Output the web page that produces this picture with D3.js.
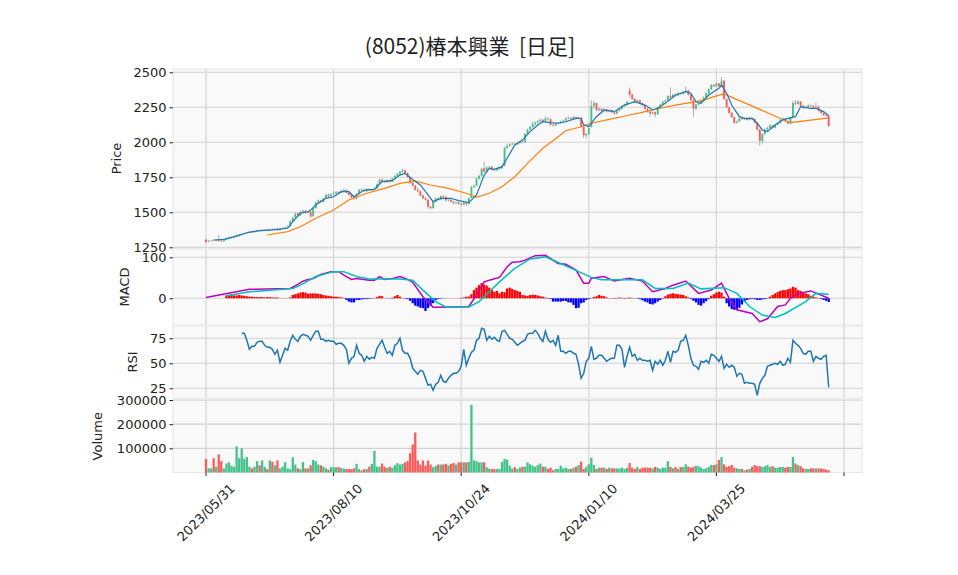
<!DOCTYPE html>
<html>
<head>
<meta charset="utf-8">
<script src="https://cdn.jsdelivr.net/npm/d3@7"></script>
<style>
  body { margin: 0; background: #fff; }
  text { font-family: "DejaVu Sans", sans-serif; fill: #222; }
</style>
</head>
<body>
<div id="chart"></div>
<script>
// ---- data ----
var title = "(8052)椿本興業  [日足]";
var tickIdx = [0, 50, 100, 150, 200, 250];
var tickLabels = ["2023/05/31", "2023/08/10", "2023/10/24", "2024/01/10", "2024/03/25", ""];

var opens = [
1305,1290,1296,1301,1298,1303,1296,1294,1305,1310, 1315,1320,1323,1330,1338,1346,1350,1355,1364,1358,
1365,1372,1366,1372,1376,1370,1378,1376,1382,1372, 1382,1386,1392,1400,1436,1462,1492,1478,1500,1512,
1498,1505,1472,1530,1570,1585,1575,1600,1625,1615, 1630,1636,1646,1640,1652,1660,1640,1625,1605,1598,
1630,1660,1655,1650,1665,1658,1662,1670,1700,1735, 1722,1715,1730,1719,1740,1760,1775,1790,1800,1780,
1750,1710,1690,1660,1650,1620,1600,1590,1540,1530, 1575,1600,1590,1615,1610,1585,1590,1575,1565,1570,
1560,1555,1568,1560,1602,1680,1690,1740,1760,1815, 1790,1820,1825,1805,1800,1810,1815,1832,1960,1975,
1985,1990,1985,1995,2005,2000,2060,2090,2110,2130, 2140,2150,2160,2150,2170,2165,2125,2120,2135,2140,
2148,2155,2170,2175,2168,2180,2172,2175,2110,2050, 2060,2110,2262,2280,2230,2240,2225,2235,2220,2230,
2215,2205,2225,2240,2260,2270,2370,2340,2310,2290, 2300,2280,2265,2240,2220,2205,2215,2200,2250,2270,
2290,2300,2330,2320,2340,2335,2350,2345,2360,2370, 2340,2300,2240,2270,2280,2300,2320,2350,2380,2410,
2400,2420,2400,2440,2310,2250,2210,2180,2140,2150, 2170,2165,2170,2160,2175,2165,2140,2090,2010,2060,
2090,2100,2120,2105,2125,2140,2160,2170,2150,2135, 2180,2280,2275,2290,2260,2245,2250,2265,2260,2250,
2255,2225,2210,2195,2190];
var highs = [
1310,1300,1304,1306,1310,1338,1302,1308,1314,1318, 1325,1326,1334,1342,1348,1354,1360,1368,1368,1370,
1376,1376,1378,1380,1380,1384,1386,1388,1386,1388, 1392,1398,1404,1445,1470,1498,1500,1512,1520,1516,
1512,1508,1535,1575,1592,1590,1605,1632,1634,1636, 1645,1652,1650,1660,1668,1664,1646,1630,1612,1636,
1666,1670,1662,1672,1670,1668,1676,1706,1742,1740, 1728,1736,1734,1746,1766,1782,1796,1812,1806,1786,
1756,1720,1696,1676,1656,1628,1610,1594,1548,1582, 1606,1606,1622,1624,1614,1596,1594,1582,1578,1576,
1566,1574,1572,1606,1690,1700,1748,1770,1818,1860, 1828,1832,1830,1812,1818,1822,1838,1968,1990,1994,
2000,1996,2004,2012,2010,2066,2098,2118,2146,2150, 2160,2170,2166,2186,2180,2170,2132,2142,2146,2156,
2162,2178,2186,2180,2188,2184,2182,2178,2118,2066, 2108,2300,2296,2284,2250,2246,2242,2240,2238,2234,
2222,2232,2246,2266,2276,2296,2392,2348,2318,2306, 2304,2286,2270,2246,2226,2222,2220,2256,2276,2296,
2306,2336,2392,2346,2350,2358,2356,2366,2398,2376, 2346,2306,2276,2286,2306,2328,2356,2386,2416,2416,
2426,2424,2466,2446,2316,2256,2216,2186,2156,2176, 2176,2176,2174,2182,2178,2170,2146,2096,2066,2100,
2112,2130,2124,2132,2146,2166,2176,2174,2156,2182, 2296,2302,2300,2294,2266,2262,2272,2270,2264,2284,
2260,2230,2216,2204,2194];
var lows = [
1282,1286,1292,1294,1294,1292,1288,1292,1300,1306, 1311,1314,1320,1326,1332,1340,1346,1352,1352,1354,
1360,1362,1362,1368,1364,1366,1370,1372,1366,1368, 1378,1380,1388,1398,1430,1455,1470,1475,1494,1490,
1492,1462,1468,1526,1562,1568,1570,1596,1608,1610, 1625,1630,1634,1636,1646,1636,1620,1600,1590,1594,
1626,1650,1644,1646,1652,1650,1656,1666,1696,1716, 1708,1710,1712,1716,1736,1754,1770,1784,1774,1745,
1704,1684,1654,1640,1614,1594,1584,1526,1518,1526, 1570,1584,1586,1604,1578,1580,1570,1558,1560,1554,
1548,1552,1546,1556,1598,1672,1686,1734,1756,1786, 1784,1810,1798,1792,1796,1800,1808,1828,1952,1966,
1978,1976,1980,1988,1992,1996,2054,2084,2104,2120, 2134,2144,2142,2146,2156,2118,2112,2116,2128,2134,
2140,2150,2164,2160,2162,2164,2166,2104,2030,2028, 2054,2104,2240,2222,2220,2218,2218,2212,2214,2208,
2196,2200,2220,2234,2252,2262,2320,2300,2282,2284, 2274,2258,2234,2212,2182,2198,2180,2196,2244,2264,
2282,2296,2314,2314,2326,2330,2338,2340,2354,2334, 2292,2184,2230,2262,2274,2294,2314,2344,2374,2394,
2394,2396,2396,2304,2244,2204,2174,2130,2134,2146, 2158,2160,2154,2156,2158,2134,2084,1974,1990,2050,
2080,2094,2096,2100,2120,2134,2150,2144,2128,2130, 2176,2266,2270,2254,2238,2240,2246,2254,2244,2246,
2218,2204,2188,2184,2110];
var closes = [
1288,1296,1300,1298,1302,1296,1294,1305,1310,1315, 1320,1322,1330,1338,1345,1350,1355,1362,1358,1365,
1370,1366,1372,1375,1370,1378,1376,1380,1372,1382, 1386,1392,1398,1435,1460,1490,1478,1500,1512,1498,
1505,1470,1530,1570,1585,1575,1600,1625,1615,1630, 1636,1645,1640,1652,1660,1640,1625,1605,1598,1630,
1660,1655,1650,1665,1658,1662,1670,1700,1735,1722, 1715,1730,1719,1740,1760,1775,1790,1800,1780,1750,
1710,1690,1660,1650,1620,1600,1590,1540,1530,1575, 1600,1590,1615,1610,1585,1590,1575,1565,1570,1560,
1555,1568,1560,1600,1680,1690,1740,1760,1810,1790, 1820,1825,1805,1800,1810,1815,1830,1960,1975,1985,
1990,1985,1995,2005,2000,2060,2090,2110,2130,2140, 2150,2160,2150,2170,2165,2125,2120,2135,2140,2148,
2155,2170,2175,2168,2180,2172,2175,2110,2050,2060, 2100,2260,2280,2230,2240,2225,2235,2220,2230,2215,
2205,2225,2240,2260,2270,2290,2340,2310,2290,2300, 2280,2265,2240,2220,2205,2215,2200,2250,2270,2290,
2300,2330,2320,2340,2335,2350,2345,2360,2370,2340, 2300,2240,2270,2280,2300,2320,2350,2380,2410,2400,
2420,2400,2440,2310,2250,2210,2180,2140,2150,2170, 2165,2170,2160,2175,2165,2140,2090,2010,2060,2090,
2100,2120,2105,2125,2140,2160,2170,2150,2135,2175, 2280,2275,2290,2260,2245,2250,2265,2260,2250,2255,
2225,2210,2195,2190,2116];
var volumes = [
56000,17000,17000,59000,24000,75000,47000,16000,37000,42000, 28000,24000,108000,59000,100000,56000,64000,24000,17000,24000,
47000,30000,50000,24000,14000,50000,44000,30000,50000,17000, 24000,43000,17000,14000,63000,33000,17000,14000,43000,17000,
17000,30000,52000,47000,33000,30000,24000,17000,12000,22000, 22000,22000,22000,19000,16000,14000,14000,14000,17000,36000,
14000,8000,14000,14000,24000,36000,89000,24000,24000,37000, 24000,19000,24000,19000,30000,39000,33000,36000,42000,47000,
80000,116000,166000,50000,33000,50000,28000,50000,33000,22000, 28000,33000,33000,33000,36000,30000,36000,39000,33000,42000,
42000,42000,42000,44000,280000,50000,47000,42000,42000,42000, 22000,16000,14000,14000,14000,14000,44000,56000,53000,28000,
16000,22000,14000,20000,24000,24000,42000,34000,28000,24000, 31000,37000,24000,24000,14500,20000,9000,14500,14500,28000,
17000,20000,14500,14500,20000,24000,31000,45000,14500,24000, 34000,61000,31000,14500,20000,20000,20000,14500,20000,17000,
17000,17000,17000,20000,14500,20000,39000,20000,14500,23000, 14500,20000,20000,20000,20000,17000,23000,20000,14500,20000,
20000,47000,23000,17000,23000,14500,23000,23000,34000,24000, 20000,24000,28000,26000,20000,14500,17000,23000,31000,31000,
34000,52000,64000,34000,23000,26000,31000,20000,17000,14500, 14500,9000,12000,14500,23000,31000,26000,26000,23000,26000,
31000,23000,26000,20000,20000,23000,23000,20000,23000,23000, 64000,37000,31000,26000,17000,14500,14500,17000,17000,17000,
17000,17000,14500,12000,9000];

var rsi = [
null,null,null,null,null,null,null,null,null,null, null,null,null,null,80,80,73,64,67,67,
71,72,72,68,66,66,64,59,63,51, 58,65,63,72,78,74,72,77,79,78,
77,73,78,82,82,74,74,72,73,72, 72,69,70,70,68,64,50,55,57,68,
60,58,52,57,54,56,55,65,69,73, 66,60,62,58,68,70,75,63,60,60,
55,45,42,39,43,42,35,28,29,23, 29,31,38,32,31,35,38,40,40,42,
47,64,48,55,61,63,73,75,85,84, 73,77,74,76,73,72,82,83,79,75,
74,71,68,70,72,73,79,80,80,83, 80,75,72,82,74,71,73,68,78,62,
62,60,62,62,60,59,49,35,40,52, 55,67,54,55,58,58,55,52,54,55,
55,68,68,64,46,57,66,57,59,53, 55,53,53,52,53,43,52,49,53,48,
53,62,51,62,61,63,72,73,78,68, 55,48,47,44,52,51,53,50,59,58,
55,52,57,45,49,46,48,46,37,40, 39,30,31,30,30,29,18,30,35,38,
47,48,49,50,49,52,48,49,55,51, 73,70,68,65,60,59,62,62,52,57,
55,54,57,58,26];

var macdHist = [
null,null,null,null,null,null,null,null,7,8, 8,7,7,8,7,6,5,4,4,3,
3,3,3,2,3,3,2,2,2,0.5, 0.5,0.3,0.5,2,8,10,12,14,15,14,
11,12,12,12,11,10,8,7,6,5, 4,4,3,2,1,-4,-8,-10,-10,-4,
-4,-3,-2,-2,-1.5,-1,-0.5,3,6,5, 0.5,-0.5,-0.5,-1,5,8,4,-0.5,-1,-2,
-6,-12,-18,-20,-23,-24,-31,-24,-18,-12, -4,-2,-1,-0.5,-0.5,0.3,0.3,0.3,0.3,0.5,
1,2,4,4,10,20,26,32,37,34, 31,26,20,16,18,12,16,15,24,26,
23,20,18,16,8,7,6,8,9,8, 7,5,4,2,-1,-2,-8,-8,-8,-8,
-6.5,-6.5,-10,-10,-16,-24,-23,-12,-10,-4, -2,1,3,5,8,6,5,2,0.5,-0.5,
-1,1,2,1,-1,1,2,1,0.5,-1, -2,-5,-8,-10,-14,-15,-12,-8,-4,-1,
5,9,11,12,11,10,9,8,5,2, -2,-6,-10,-16,-18,-12,-7,-2,6,10,
14,16,14,4,-12,-20,-26,-28,-28,-23, -15,-7,-4,-2.5,-1.6,-2.4,-4,-4,-3,-2,
-1,4,8,12,15,18,20,20,22,24, 28,26,20,18,15,12,10,6,4,2,
1,-2,-4,-6,-9];

// [bar index, value] vertices of the indicator lines
var macdLine = [[0,2],[17,22],[33,24],[36,34],[38,42],[40,46],[42,48],[45,58],[49,65],[52,65],[55,53],[57,46],[59,48],
  [64,44],[66,44],[68,53],[70,46],[73,48],[76,53],[79,46],[81,39],[85,4],[89,-22],[97,-21],[103,-20],[106,8],[109,40],
  [112,46],[115,51],[118,77],[120,88],[123,89],[125,93],[129,104],[133,105],[138,85],[141,83],[145,69],[148,37],[150,37],
  [151,49],[156,53],[160,42],[163,46],[166,49],[171,42],[175,16],[180,24],[183,32],[188,42],[193,12],[198,20],[202,37],
  [205,0],[208,-28],[214,-37],[217,-57],[220,-50],[224,-20],[227,-16],[229,0],[232,12],[237,18],[244,0]];
var signalLine = [[8,6],[17,16],[34,24],[37,32],[43,53],[50,65],[54,65],[59,53],[64,47],[76,47],[81,44],[85,20],[90,-8],
  [94,-21],[103,-21],[107,-8],[111,16],[115,40],[121,73],[127,96],[133,101],[139,85],[146,65],[151,51],[155,45],[171,45],
  [176,24],[183,24],[189,37],[194,23],[203,26],[208,12],[213,-20],[218,-41],[223,-47],[227,-37],[235,-8],[239,12],[244,10]];
var maShort = [[3,1302],[7,1307],[11,1326],[16,1354],[21,1369],[26,1374],[32,1386],[34,1433],[37,1493],[40,1504],[41,1516],
  [43,1552],[47,1600],[50,1611],[53,1647],[56,1647],[58,1611],[62,1659],[66,1664],[69,1719],[73,1726],[76,1766],[78,1778],
  [81,1735],[84,1695],[87,1624],[89,1576],[92,1600],[96,1600],[99,1583],[103,1569],[106,1624],[109,1766],[111,1814],
  [113,1807],[116,1826],[118,1886],[121,1981],[124,2016],[127,2076],[130,2124],[132,2147],[135,2140],[138,2136],[141,2147],
  [145,2171],[147,2171],[148,2124],[150,2112],[153,2183],[156,2231],[160,2219],[164,2266],[168,2290],[172,2266],[175,2231],
  [177,2243],[180,2278],[184,2338],[188,2362],[190,2350],[192,2290],[194,2278],[197,2338],[201,2386],[202,2409],[204,2350],
  [206,2266],[209,2183],[211,2171],[214,2171],[216,2136],[218,2088],[220,2076],[223,2124],[226,2159],[228,2171],[231,2183],
  [233,2254],[237,2243],[239,2243],[242,2219],[244,2190]];
var maLong = [[24,1338],[32,1362],[37,1397],[43,1457],[50,1516],[56,1588],[63,1636],[70,1671],[76,1707],[82,1722],[88,1695],
  [95,1671],[102,1636],[106,1607],[111,1636],[116,1683],[121,1754],[126,1850],[132,1957],[138,2040],[141,2083],[147,2111],
  [151,2136],[158,2164],[166,2195],[170,2210],[176,2236],[184,2266],[192,2290],[196,2307],[199,2326],[203,2345],[229,2140],
  [244,2175]];

var priceTicks = [1250, 1500, 1750, 2000, 2250, 2500];
var macdTicks = [0, 100];
var rsiTicks = [25, 50, 75];
var volTicks = [100000, 200000, 300000];

// ---- layout ----
var totalWidth = 958, totalHeight = 575;
var left = 173, right = 862;
var upColor = "#45c28b", downColor = "#fb5b5b";

var svg = d3.select("#chart").append("svg")
	.attr("width", totalWidth)
	.attr("height", totalHeight);

var xScale = d3.scaleLinear().domain([0, 250]).range([206, 844]);

var panels = [
	{ name: "price", top: 69, bottom: 248, label: "Price", labelX: 116, ticks: priceTicks,
	  y: d3.scaleLinear().domain([1250, 2500]).range([247.3, 72.3]) },
	{ name: "macd", top: 249, bottom: 325, label: "MACD", labelX: 124, ticks: macdTicks,
	  y: d3.scaleLinear().domain([0, 100]).range([298.3, 257.3]) },
	{ name: "rsi", top: 326, bottom: 398, label: "RSI", labelX: 132, ticks: rsiTicks,
	  y: d3.scaleLinear().domain([25, 75]).range([388.3, 338.3]) },
	{ name: "vol", top: 400, bottom: 472.5, label: "Volume", labelX: 97, ticks: volTicks,
	  y: d3.scaleLinear().domain([0, 300000]).range([472.5, 400]) }
];

panels.forEach(function (p) {
	var g = svg.append("g").attr("id", p.name);
	p.g = g;
	g.append("rect")
		.attr("x", left).attr("y", p.top)
		.attr("width", right - left).attr("height", p.bottom - p.top)
		.attr("fill", "#f9f9f9")
		.attr("stroke", "#e6e6e6")
		.attr("stroke-width", 1);

	// grid
	g.selectAll(".hgrid").data(p.ticks).enter().append("line")
		.attr("x1", left).attr("x2", right)
		.attr("y1", function (d) { return p.y(d); })
		.attr("y2", function (d) { return p.y(d); })
		.attr("stroke", "#d2d2d2").attr("stroke-width", 1.1);
	g.selectAll(".vgrid").data(tickIdx).enter().append("line")
		.attr("x1", function (d) { return xScale(d); })
		.attr("x2", function (d) { return xScale(d); })
		.attr("y1", p.top).attr("y2", p.bottom)
		.attr("stroke", "#d2d2d2").attr("stroke-width", 1.1);

	// y axis
	var axis = d3.axisLeft(p.y).tickValues(p.ticks).tickSize(3.5).tickPadding(3)
		.tickFormat(d3.format("d"));
	var ag = svg.append("g").attr("transform", "translate(" + left + ",0)").call(axis);
	ag.select(".domain").remove();
	ag.selectAll(".tick line").attr("stroke", "#222");
	ag.selectAll(".tick text")
		.attr("fill", "#222")
		.style("font-size", "13px")
		.style("font-family", "DejaVu Sans, sans-serif");

	svg.append("text")
		.attr("transform", "translate(" + p.labelX + "," + ((p.top + p.bottom) / 2) + ") rotate(-90)")
		.attr("text-anchor", "middle")
		.attr("dominant-baseline", "central")
		.style("font-size", "13px")
		.text(p.label);
});

var price = panels[0], macd = panels[1], rsiP = panels[2], vol = panels[3];
var idx = d3.range(closes.length);

// ---- candles ----
price.g.selectAll(".wick").data(idx).enter().append("line")
	.attr("x1", function (i) { return xScale(i); })
	.attr("x2", function (i) { return xScale(i); })
	.attr("y1", function (i) { return price.y(highs[i]); })
	.attr("y2", function (i) { return price.y(lows[i]); })
	.attr("stroke", "#9a9a9a").attr("stroke-width", 0.8);
price.g.selectAll(".body").data(idx).enter().append("rect")
	.attr("x", function (i) { return xScale(i) - 0.95; })
	.attr("width", 1.9)
	.attr("y", function (i) { return price.y(Math.max(opens[i], closes[i])); })
	.attr("height", function (i) {
		return Math.max(0.6, Math.abs(price.y(opens[i]) - price.y(closes[i])));
	})
	.attr("fill", function (i) { return closes[i] >= opens[i] ? upColor : downColor; });

var pairLine = function (y) {
	return d3.line().x(function (d) { return xScale(d[0]); }).y(function (d) { return y(d[1]); });
};
price.g.append("path").datum(maLong)
	.attr("d", pairLine(price.y)).attr("fill", "none")
	.attr("stroke", "#ff7f0e").attr("stroke-width", 1.2);
price.g.append("path").datum(maShort)
	.attr("d", pairLine(price.y)).attr("fill", "none")
	.attr("stroke", "#1f77b4").attr("stroke-width", 1.2);

// ---- MACD ----
macd.g.selectAll(".hist").data(idx.filter(function (i) { return macdHist[i] !== null; })).enter().append("rect")
	.attr("x", function (i) { return xScale(i) - 1.15; })
	.attr("width", 2.3)
	.attr("y", function (i) { return macd.y(Math.max(0, macdHist[i])); })
	.attr("height", function (i) { return Math.abs(macd.y(macdHist[i]) - macd.y(0)); })
	.attr("fill", function (i) { return macdHist[i] >= 0 ? "#ff0000" : "#0000ff"; });
macd.g.append("path").datum(macdLine)
	.attr("d", pairLine(macd.y)).attr("fill", "none")
	.attr("stroke", "#bf00bf").attr("stroke-width", 1.5);
macd.g.append("path").datum(signalLine)
	.attr("d", pairLine(macd.y)).attr("fill", "none")
	.attr("stroke", "#00bfbf").attr("stroke-width", 1.5);

// ---- RSI ----
rsiP.g.append("path").datum(idx)
	.attr("d", d3.line()
		.defined(function (i) { return rsi[i] !== null; })
		.x(function (i) { return xScale(i); })
		.y(function (i) { return rsiP.y(rsi[i]); }))
	.attr("fill", "none")
	.attr("stroke", "#1f77b4").attr("stroke-width", 1.5);

// ---- volume ----
vol.g.selectAll(".vbar").data(idx).enter().append("rect")
	.attr("x", function (i) { return xScale(i) - 1.15; })
	.attr("width", 2.3)
	.attr("y", function (i) { return vol.y(volumes[i]); })
	.attr("height", function (i) { return vol.y(0) - vol.y(volumes[i]); })
	.attr("fill", function (i) { return closes[i] >= opens[i] ? upColor : downColor; });

// ---- x axis ----
var xg = svg.append("g");
xg.selectAll(".xt").data(tickIdx).enter().append("line")
	.attr("x1", function (d) { return xScale(d); })
	.attr("x2", function (d) { return xScale(d); })
	.attr("y1", vol.bottom).attr("y2", vol.bottom + 3.5)
	.attr("stroke", "#222");
xg.selectAll(".xl").data(tickIdx).enter().append("text")
	.style("font-size", "13px")
	.attr("text-anchor", "middle")
	.attr("dominant-baseline", "central")
	.text(function (d, i) { return tickLabels[i]; })
	.attr("transform", function (d) {
		var w = this.getComputedTextLength();
		var half = (w + 13) / (2 * Math.SQRT2);
		return "translate(" + xScale(d) + "," + (vol.bottom + 9 + half) + ") rotate(-45)";
	});

// ---- title ----
svg.append("text")
	.attr("x", 470).attr("y", 45)
	.attr("text-anchor", "middle")
	.attr("dominant-baseline", "central")
	.style("font-family", "'Noto Sans CJK JP', sans-serif")
	.style("font-size", "21px")
	.style("white-space", "pre")
	.text(title);
</script>
</body>
</html>
